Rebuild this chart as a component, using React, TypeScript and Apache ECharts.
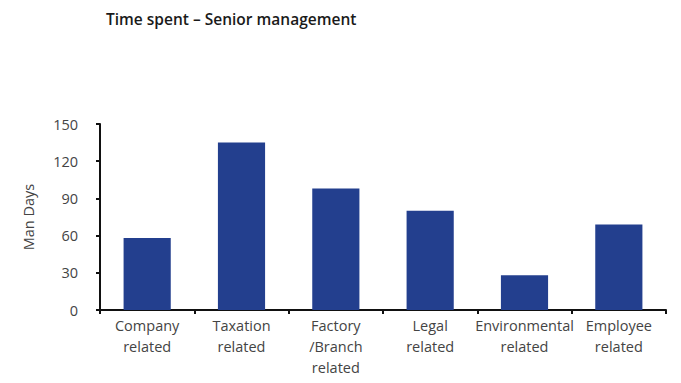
import React, { useEffect, useRef } from "react";
import * as echarts from "echarts";

const categories = [
  "Company\nrelated",
  "Taxation\nrelated",
  "Factory\n/Branch\nrelated",
  "Legal\nrelated",
  "Environmental\nrelated",
  "Employee\nrelated",
];
const manDays = [58, 135, 98, 80, 28, 69];
const yTicks = { min: 0, max: 150, interval: 30 };
const titleText = "Time spent \u2013 Senior management";
const yName = "Man Days";

export default function App() {
  const ref = useRef<HTMLDivElement>(null);
  useEffect(() => {
    if (!ref.current) return;
    const chart = echarts.init(ref.current, undefined, { renderer: "svg" });
    const font = "'Open Sans', 'Noto Sans', sans-serif";
    chart.setOption({
      animation: false,
      backgroundColor: "#ffffff",
      textStyle: { fontFamily: font },
      title: {
        text: titleText,
        left: 101,
        top: 6,
        textStyle: { fontSize: 15.5, fontWeight: 600, color: "#1a1a1a", fontFamily: font },
      },
      grid: { left: 100, right: 15, top: 124, bottom: 73 },
      xAxis: {
        type: "category",
        data: categories,
        axisLine: { lineStyle: { color: "#111", width: 2 } },
        axisTick: { show: true, length: 4, alignWithLabel: false, lineStyle: { color: "#111", width: 2 } },
        axisLabel: {
          color: "#444",
          fontSize: 14.5,
          lineHeight: 21,
          margin: 5,
          interval: 0,
          fontFamily: font,
        },
      },
      yAxis: {
        type: "value",
        min: yTicks.min,
        max: yTicks.max,
        interval: yTicks.interval,
        name: yName,
        nameLocation: "middle",
        nameGap: 64,
        nameTextStyle: { color: "#444", fontSize: 14.5, fontFamily: font },
        axisLine: { show: true, lineStyle: { color: "#111", width: 2 } },
        axisTick: { show: true, length: 4, lineStyle: { color: "#111", width: 2 } },
        axisLabel: { color: "#444", fontSize: 14.5, margin: 22, fontFamily: font },
        splitLine: { show: false },
      },
      series: [
        {
          type: "bar",
          data: manDays,
          barWidth: "50%",
          itemStyle: { color: "#233f8e" },
        },
      ],
    });
    return () => chart.dispose();
  }, []);
  return <div ref={ref} style={{ width: 681, height: 383, position: "absolute", left: 0, top: 0 }} />;
}
